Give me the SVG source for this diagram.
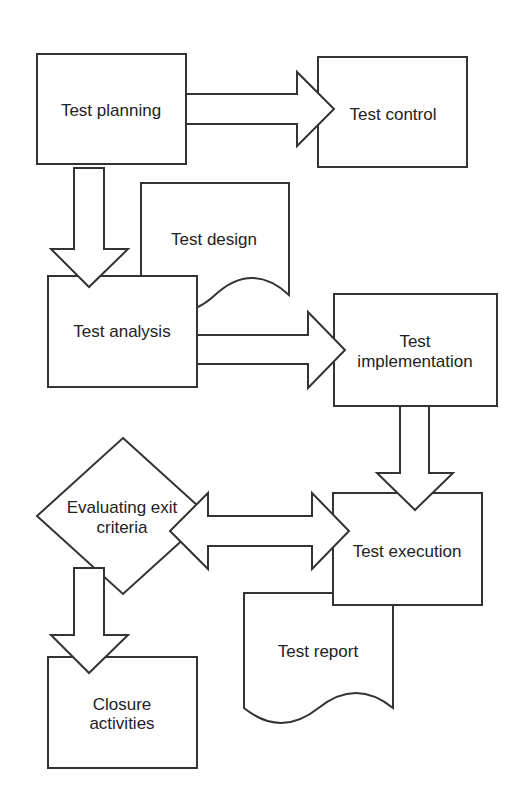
<svg xmlns="http://www.w3.org/2000/svg" width="524" height="794" viewBox="0 0 524 794">
<style>
.s{fill:#fff;stroke:#333;stroke-width:2;stroke-linejoin:miter}
.t{font-family:"Liberation Sans",Arial,Helvetica,sans-serif;font-size:17px;fill:#222;text-anchor:middle}
</style>
<rect width="524" height="794" fill="#fff"/>
<g id="test-planning">
<rect class="s" x="37" y="54" width="149" height="110"/>
<text class="t" x="111" y="116">Test planning</text>
</g>
<g id="test-control">
<rect class="s" x="318" y="57" width="149" height="110"/>
<text class="t" x="393" y="120">Test control</text>
</g>
<g id="test-design">
<path class="s" d="M141,183 L289,183 L289,295 Q252,261 215,295 Q178,329 141,295 Z"/>
<text class="t" x="214" y="245">Test design</text>
</g>
<g id="test-analysis">
<rect class="s" x="48" y="276" width="149" height="111"/>
<text class="t" x="122" y="337">Test analysis</text>
</g>
<g id="test-implementation">
<rect class="s" x="334" y="294" width="163" height="112"/>
<text class="t" x="415" y="347">Test</text>
<text class="t" x="415" y="367">implementation</text>
</g>
<g id="test-report">
<path class="s" d="M244,593 L393,593 L393,708 Q356,678 318.5,708 Q281,738 244,708 Z"/>
<text class="t" x="318" y="657">Test report</text>
</g>
<g id="test-execution">
<rect class="s" x="333" y="493" width="149" height="112"/>
<text class="t" x="407" y="557">Test execution</text>
</g>
<g id="evaluating-exit-criteria">
<polygon class="s" points="123,438 209,516 123,594 37,516"/>
<text class="t" x="122" y="513">Evaluating exit</text>
<text class="t" x="122" y="533">criteria</text>
</g>
<g id="closure-activities">
<rect class="s" x="48" y="657" width="149" height="111"/>
<text class="t" x="122" y="710">Closure</text>
<text class="t" x="122" y="729">activities</text>
</g>
<g id="connectors">
<polygon class="s" points="186,94 297,94 297,72 334,109 297,146 297,124 186,124"/>
<polygon class="s" points="74,168 104,168 104,249 128,249 89,287 51,249 74,249"/>
<polygon class="s" points="197,335 308,335 308,312 345,350 308,388 308,364 197,364"/>
<polygon class="s" points="400,406 429,406 429,473 453,473 415,510 377,473 400,473"/>
<polygon class="s" points="170,531 208,493 208,516 312,516 312,493 349,531 312,569 312,546 208,546 208,569"/>
<polygon class="s" points="74,568 104,568 104,635 128,635 89,673 51,635 74,635"/>
</g>
</svg>
